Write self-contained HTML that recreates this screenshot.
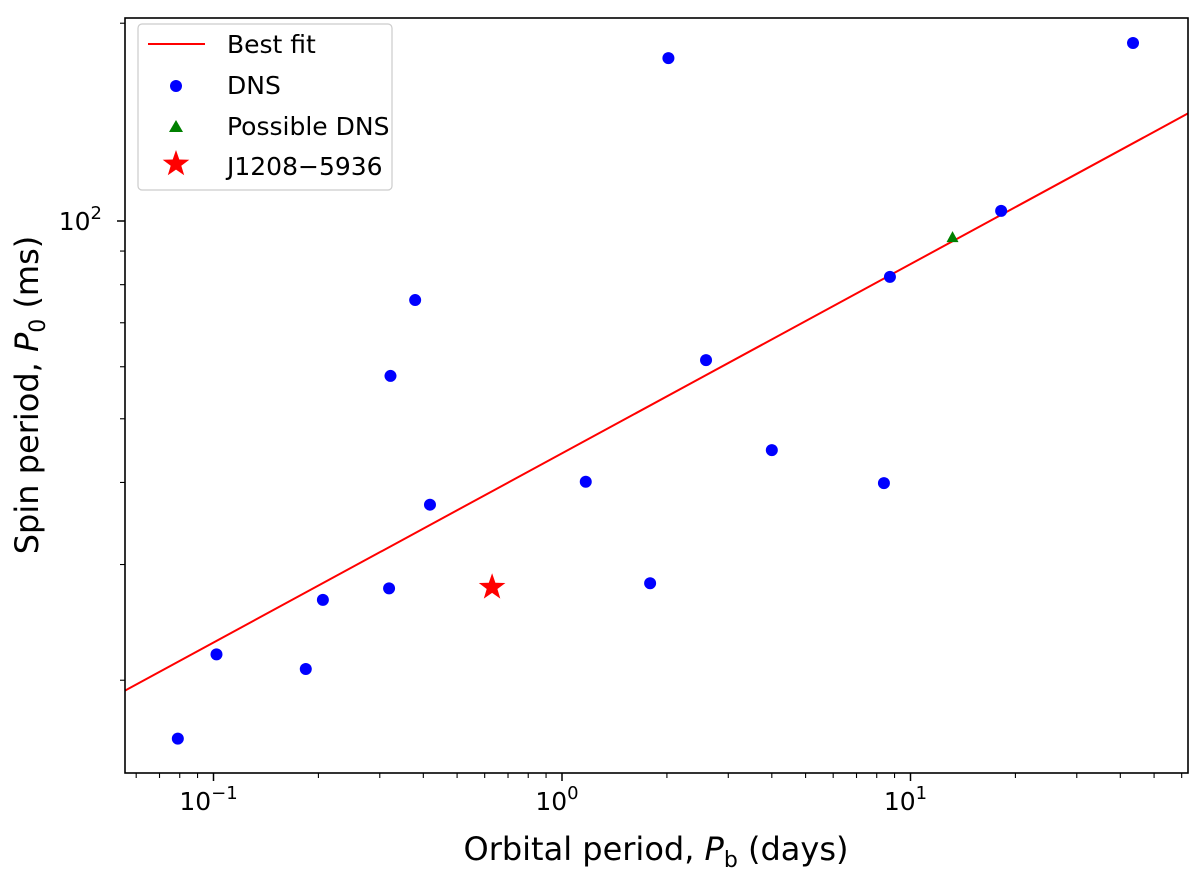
<!DOCTYPE html>
<html><head><meta charset="utf-8"><style>
body{margin:0;background:#fff}
svg text{font-family:"DejaVu Sans","Liberation Sans",sans-serif;fill:#000}
</style></head><body>
<svg id="chart" width="1200" height="876" xmlns="http://www.w3.org/2000/svg">
<g id="grid"></g>
<g id="marks"></g>
<rect x="125" y="18" width="1063" height="755" fill="none" stroke="#000" stroke-width="1.6"/>
<text x="656" y="860" font-size="32" text-anchor="middle">Orbital period, <tspan font-style="italic">P</tspan><tspan font-size="22" dy="7">b</tspan><tspan dy="-7"> (days)</tspan></text>
<text transform="translate(38,395) rotate(-90)" font-size="32" text-anchor="middle">Spin period, <tspan font-style="italic">P</tspan><tspan font-size="22" dy="7">0</tspan><tspan dy="-7"> (ms)</tspan></text>
<g>
<rect x="138" y="24" width="254" height="166" rx="4" fill="#fff" stroke="#ccc" stroke-width="1.2"/>
<line x1="148" y1="44" x2="205" y2="44" stroke="#f00" stroke-width="2"/>
<text x="227" y="53" font-size="25">Best fit</text>
<circle cx="176" cy="86" r="6" fill="#00f"/>
<text x="227" y="94" font-size="25">DNS</text>
<polygon points="176,120 183,132 169,132" fill="#008000"/>
<text x="227" y="135" font-size="25">Possible DNS</text>
<polygon id="legstar" fill="#f00"/>
<text x="227" y="175" font-size="25">J1208−5936</text>
</g>
</svg>
<script>
const dnsPb=[0.079,0.102,0.184,0.206,0.319,0.322,0.379,0.418,1.17,1.79,2.02,2.59,4.00,8.39,8.73,18.2,43.5];
const dnsP0=[16.3,21.9,20.8,26.5,27.6,58.1,75.8,37.0,40.1,28.1,177,61.4,44.8,39.9,82.2,103.6,186.6];
const possPb=[13.2];
const possP0=[94.5];
const starPb=[0.630];
const starP0=[27.7];
const fitCoef=[44.3,0.288];
const xTickVals=[0.1,1,10];
const xTickLabels=["10","10","10"];
const xTickExps=["−1","0","1"];
const yTickVals=[100];
const yTickExps=["2"];
const NS="http://www.w3.org/2000/svg";
const L=125,R=1188,T=18,B=773;
function X(v){return 562+348.5*Math.log10(v);}
function Y(v){return 221-657*Math.log10(v/100);}
function mk(tag,attrs,parent){const e=document.createElementNS(NS,tag);for(const k in attrs)e.setAttribute(k,attrs[k]);parent.appendChild(e);return e;}
const g=document.getElementById('grid'),m=document.getElementById('marks');
function starPts(cx,cy,ro){const ri=ro*0.4;let p=[];for(let i=0;i<10;i++){const r=i%2?ri:ro,a=-Math.PI/2+i*Math.PI/5;p.push((cx+r*Math.cos(a)).toFixed(1)+','+(cy+r*Math.sin(a)).toFixed(1));}return p.join(' ');}
document.getElementById('legstar').setAttribute('points',starPts(176,164,14));
for(let d=-2;d<=2;d++){for(let k=1;k<10;k++){const v=k*Math.pow(10,d);const x=X(v);if(x<L||x>R)continue;
const t=mk('line',{x1:x,x2:x,y1:B,y2:B+(k==1?8:5),stroke:'#000','stroke-width':k==1?1.5:1.1},g);

}}
xTickVals.forEach((v,i)=>{const t=mk('text',{x:X(v)-5,y:B+37,'font-size':25,'text-anchor':'middle'},g);t.textContent=xTickLabels[i];
const s=mk('tspan',{'font-size':18,dy:-11},t);s.textContent=xTickExps[i];

});
for(let d=1;d<=2;d++){for(let k=1;k<10;k++){const v=k*Math.pow(10,d);const y=Y(v);if(y<T||y>B)continue;
const t=mk('line',{x1:L,x2:L-(k==1?8:5),y1:y,y2:y,stroke:'#000','stroke-width':k==1?1.5:1.1},g);

}}
yTickVals.forEach((v,i)=>{const t=mk('text',{x:L-12-11,y:Y(v)+9,'font-size':25,'text-anchor':'end'},g);t.textContent='10';
const s=mk('tspan',{'font-size':18,dy:-11},t);s.textContent=yTickExps[i];

});
const x0=Math.pow(10,(L-562)/348.5),x1=Math.pow(10,(R-562)/348.5);
const fl=mk('line',{x1:X(x0),y1:Y(fitCoef[0]*Math.pow(x0,fitCoef[1])),x2:X(x1),y2:Y(fitCoef[0]*Math.pow(x1,fitCoef[1])),stroke:'#f00','stroke-width':2},m);


dnsPb.forEach((v,i)=>{const c=mk('circle',{cx:X(v),cy:Y(dnsP0[i]),r:6,fill:'#00f'},m);

});
possPb.forEach((v,i)=>{const x=X(v),y=Y(possP0[i]);const p=mk('polygon',{points:`${x},${y-6} ${x+6},${y+5} ${x-6},${y+5}`,fill:'#008000'},m);

});
starPb.forEach((v,i)=>{const p=mk('polygon',{points:starPts(X(v),Y(starP0[i]),14),fill:'#f00'},m);

});
</script>
</body></html>
